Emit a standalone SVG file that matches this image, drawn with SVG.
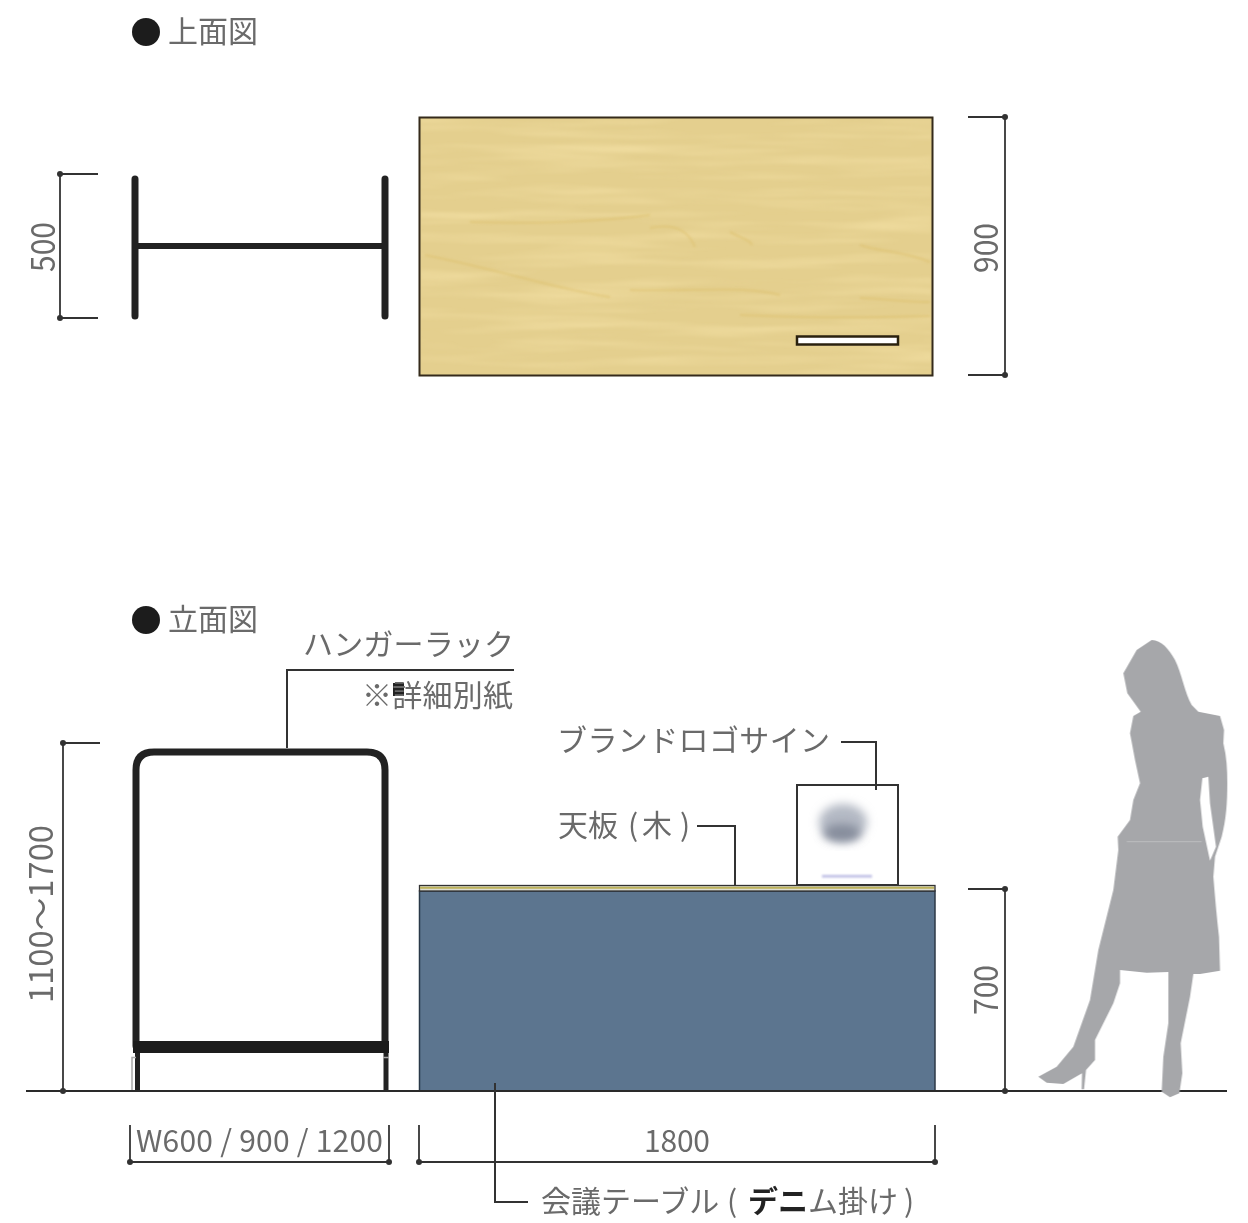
<svg xmlns="http://www.w3.org/2000/svg" width="1248" height="1223" viewBox="0 0 1248 1223">
<style>
text{font-family:"Noto Sans CJK JP","Noto Sans",sans-serif;font-size:30px;fill:#6a6a6a}
.num{font-size:33px}
.lead{fill:none;stroke:#333;stroke-width:2}
.dim{fill:none;stroke:#333;stroke-width:1.8}
.dot{fill:#333}
.rack{fill:none;stroke:#222;stroke-linecap:round}
.dark{font-weight:700;fill:#222}
</style>
<defs>
<filter id="soft" x="-5%" y="-5%" width="110%" height="110%"><feGaussianBlur stdDeviation="0.6"/></filter>
<filter id="blurLogo" x="-50%" y="-50%" width="200%" height="200%"><feGaussianBlur stdDeviation="5"/></filter>
<filter id="blurTiny" x="-20%" y="-100%" width="140%" height="300%"><feGaussianBlur stdDeviation="1"/></filter>
<filter id="grain" x="0" y="0" width="100%" height="100%">
<feTurbulence type="fractalNoise" baseFrequency="0.006 0.09" numOctaves="3" seed="7"/>
<feColorMatrix type="matrix" values="0 0 0 0 0.95  0 0 0 0 0.80  0 0 0 0 0.42  1.1 0 0 0 -0.5"/>
<feGaussianBlur stdDeviation="1.2"/>
</filter>
</defs>
<rect width="1248" height="1223" fill="#fff"/>
<g filter="url(#soft)">
<g id="plan-title">
<circle cx="146" cy="32" r="14" fill="#1c1c1c"/>
<text x="168" y="42">上面図</text>
</g>
<g id="plan-rack">
<path class="rack" stroke-width="7" d="M135 179V316M385 179V316"/>
<path class="rack" stroke-width="6" d="M135 246H385"/>
</g>
<g id="plan-table">
<rect x="419.500" y="117.500" width="513" height="258" fill="#e4cf8e"/>
<rect x="421" y="119" width="510" height="255" filter="url(#grain)"/>
<g fill="none" stroke="#dcbe68" stroke-width="2" opacity=".5" filter="url(#blurTiny)">
<path d="M425 255C500 270 560 290 610 297M470 222C530 224 600 222 650 215M650 228C680 222 690 235 695 247M730 232C745 240 750 240 752 245M630 290C700 292 740 285 780 295M860 245C880 252 900 250 930 262M740 315C800 318 860 318 930 316M860 298C880 298 900 302 930 302"/>
</g>
<rect x="419.500" y="117.500" width="513" height="258" fill="none" stroke="#352c1a" stroke-width="2"/>
<rect x="797" y="336.500" width="101" height="8" fill="#fff" stroke="#2b2110" stroke-width="2.500"/>
</g>
<g id="plan-dim-500">
<path class="dim" d="M98 174H60V318H98"/>
<circle class="dot" cx="60" cy="174" r="3"/><circle class="dot" cx="60" cy="318" r="3"/>
<text class="num" transform="translate(55 272) rotate(-90)" textLength="50" lengthAdjust="spacingAndGlyphs">500</text>
</g>
<g id="plan-dim-900">
<path class="dim" d="M968 117H1005V375H968"/>
<circle class="dot" cx="1005" cy="117" r="3"/><circle class="dot" cx="1005" cy="375" r="3"/>
<text class="num" transform="translate(998 273) rotate(-90)" textLength="50" lengthAdjust="spacingAndGlyphs">900</text>
</g>
<g id="elevation-title">
<circle cx="146" cy="620" r="14" fill="#1c1c1c"/>
<text x="168" y="630">立面図</text>
</g>
<g id="elevation-rack">
<path class="rack" stroke-width="7" stroke-linecap="butt" d="M136 1046V770Q136 752 154 752H367Q385 752 385 770V1046"/>
<rect x="133" y="1041" width="256" height="12" fill="#1d1d1d"/>
<path d="M137.500 1053V1091M386 1053V1091" stroke="#222" stroke-width="5" fill="none"/>
<path d="M132 1091V1057.500H136M383 1057.500H389" stroke="#aaa" stroke-width="1.500" fill="none"/>
</g>
<g id="elevation-table">
<rect x="419.500" y="891" width="515.500" height="200" fill="#5b748f" stroke="#2b3947" stroke-width="1.500"/>
<rect x="419.500" y="885.500" width="515.500" height="5.500" fill="#dcdcd0" stroke="#333" stroke-width="1.300"/>
<path d="M420 887.700H934" stroke="#bdb25a" stroke-width="2"/>
</g>
<g id="sign">
<rect x="797" y="785" width="101" height="100" fill="#fff" stroke="#333" stroke-width="2"/>
<ellipse cx="843" cy="822" rx="24" ry="18" fill="#b4b9c4" filter="url(#blurLogo)"/>
<ellipse cx="842" cy="833" rx="19" ry="9" fill="#868d9c" filter="url(#blurLogo)"/>
<rect x="822" y="875" width="50" height="2.500" fill="#a9a9dc" opacity=".8" filter="url(#blurTiny)"/>
</g>
<g id="ground">
<path d="M26 1091H1227" stroke="#2c2c2c" stroke-width="2" fill="none"/>
</g>
<g id="person">
<g transform="translate(1020 630) scale(.33333)">
<path fill="#a6a7aa" d="M395 30C425 32 445 55 465 90C485 130 495 190 515 225L535 245L600 258L612 300L610 340C620 380 622 420 622 460C622 520 618 570 605 620L585 680L580 740C585 800 590 860 597 920L600 1022L540 1032H520L510 1100L482 1240L487 1330L478 1390L450 1402L425 1385L430 1280L445 1180V1026L380 1028L300 1020V1060L280 1120L225 1230V1290L198 1320L192 1378H185L186 1330L130 1362L80 1358L55 1340L110 1310L160 1250L210 1110L235 960L280 780L295 660L293 620L330 570L340 510L360 460L345 390L330 310L340 258L362 245L322 190L310 130L350 60Z"/>
<path fill="#fff" d="M547 445L565 440L570 520L588 650L570 692L548 590L540 510Z"/>
<path d="M320 635H545" stroke="#b8b9bb" stroke-width="4" fill="none"/>
</g>
</g>
<g id="dim-height">
<path class="dim" d="M100 743H63V1091"/>
<circle class="dot" cx="63" cy="743" r="3"/><circle class="dot" cx="63" cy="1091" r="3"/>
<text class="num" transform="translate(53 1003) rotate(-90)" textLength="178" lengthAdjust="spacingAndGlyphs">1100～1700</text>
</g>
<g id="dim-700">
<path class="dim" d="M968 889H1005V1091"/>
<circle class="dot" cx="1005" cy="889" r="3"/><circle class="dot" cx="1005" cy="1091" r="3"/>
<text class="num" transform="translate(998 1015) rotate(-90)" textLength="50" lengthAdjust="spacingAndGlyphs">700</text>
</g>
<g id="dim-width">
<path class="dim" d="M130 1125V1162H389V1125"/>
<circle class="dot" cx="130" cy="1162" r="3"/><circle class="dot" cx="389" cy="1162" r="3"/>
<text x="136" y="1152" textLength="247" lengthAdjust="spacing">W600 / 900 / 1200</text>
</g>
<g id="dim-1800">
<path class="dim" d="M419 1125V1162H935V1125"/>
<circle class="dot" cx="419" cy="1162" r="3"/><circle class="dot" cx="935" cy="1162" r="3"/>
<text x="644" y="1152" textLength="66">1800</text>
</g>
<g id="connectors">
<path class="lead" d="M287 748V670H514"/>
<path class="lead" d="M841 742H876V790"/>
<path class="lead" d="M697 826H735V886"/>
<path class="lead" d="M495 1083V1202H528"/>
</g>
<g id="label-rack">
<text x="303" y="655" textLength="211">ハンガーラック</text>
<rect x="393" y="683" width="11" height="13" fill="#222"/>
<text x="362" y="706" textLength="151">※詳細別紙</text>
</g>
<g id="label-sign">
<text x="557" y="751" textLength="273">ブランドロゴサイン</text>
</g>
<g id="label-top">
<text x="558" y="836">天板<tspan x="628">(</tspan><tspan x="642">木</tspan><tspan x="680">)</tspan></text>
</g>
<g id="label-table">
<text x="541" y="1212">会議テーブル<tspan x="727">(</tspan><tspan x="748" class="dark">デ</tspan><tspan x="778" class="dark">ニ</tspan><tspan x="808">ム掛け</tspan><tspan x="904">)</tspan></text>
</g>
</g>
</svg>
